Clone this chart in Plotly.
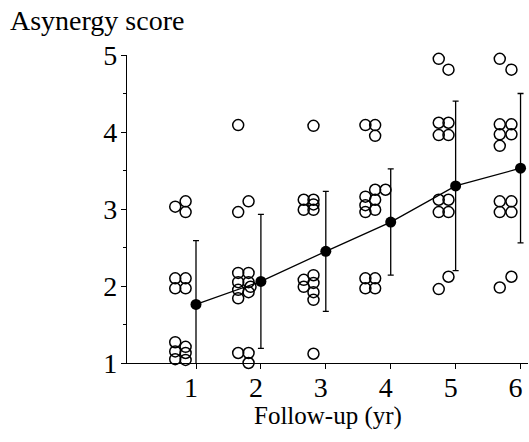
import plotly.graph_objects as go

# ---- data ----
years = [1, 2, 3, 4, 5, 6]
mean_score = [1.76, 2.06, 2.45, 2.83, 3.30, 3.53]
sd_score = [0.83, 0.87, 0.78, 0.69, 1.10, 0.97]

# individual patients (x position includes the horizontal jitter of the original)
y1_x = [0.68, 0.84, 0.84, 0.68, 0.84, 0.68, 0.84, 0.68, 0.68, 0.68, 0.68, 0.84, 0.84, 0.84]
y1_s = [3.03, 3.10, 2.96, 2.10, 2.10, 1.97, 1.97, 1.27, 1.15, 1.05, 0.98, 1.21, 1.13, 1.04]

y2_x = [1.65, 1.81, 1.65, 1.65, 1.81, 1.65, 1.81, 1.65, 1.81, 1.65, 1.84, 1.65, 1.81, 1.81]
y2_s = [4.09, 3.10, 2.96, 2.17, 2.17, 2.05, 2.05, 1.95, 1.92, 1.84, 1.99, 1.13, 1.13, 1.00]

y3_x = [2.81, 2.66, 2.81, 2.66, 2.81, 2.81, 2.66, 2.81, 2.81, 2.81, 2.66, 2.81, 2.81]
y3_s = [4.08, 3.12, 3.12, 2.99, 2.99, 3.06, 2.08, 2.14, 2.04, 1.92, 1.99, 1.82, 1.12]

y4_x = [3.61, 3.76, 3.76, 3.61, 3.76, 3.92, 3.76, 3.61, 3.76, 3.61, 3.61, 3.76, 3.61, 3.76]
y4_s = [4.09, 4.09, 3.95, 3.16, 3.25, 3.25, 3.12, 3.05, 2.99, 2.96, 2.10, 2.10, 1.97, 1.97]

y5_x = [4.74, 4.89, 4.74, 4.89, 4.74, 4.89, 4.74, 4.89, 4.74, 4.89, 4.74, 4.89]
y5_s = [4.95, 4.81, 4.12, 4.12, 3.96, 3.96, 3.12, 3.12, 2.96, 2.96, 1.96, 2.12]

y6_x = [5.68, 5.86, 5.68, 5.86, 5.68, 5.86, 5.68, 5.68, 5.86, 5.68, 5.86, 5.68, 5.86]
y6_s = [4.95, 4.81, 4.10, 4.10, 3.97, 3.97, 3.82, 3.10, 3.10, 2.96, 2.96, 1.98, 2.12]

x_ticks = [1, 2, 3, 4, 5, 6]
y_ticks = [1, 2, 3, 4, 5]
y_title = "Asynergy score"
x_title = "Follow-up (yr)"

FONT = "Liberation Serif, Times New Roman, serif"

all_x = y1_x + y2_x + y3_x + y4_x + y5_x + y6_x
all_s = y1_s + y2_s + y3_s + y4_s + y5_s + y6_s

fig = go.Figure()
fig.add_trace(go.Scatter(
    x=all_x, y=all_s, mode="markers", cliponaxis=False,
    marker=dict(symbol="circle-open", size=11, color="black",
                line=dict(width=1.5, color="black")),
    showlegend=False,
))
fig.add_trace(go.Scatter(
    x=years, y=mean_score, mode="lines+markers",
    line=dict(color="black", width=1.3),
    marker=dict(symbol="circle", size=11, color="black"),
    error_y=dict(type="data", array=sd_score, color="black", thickness=1.3, width=3),
    showlegend=False,
))

PW, PH = 401, 308   # plot area size
fig.update_layout(
    width=529, height=442,
    margin=dict(l=127, r=1, t=55, b=79),
    paper_bgcolor="white", plot_bgcolor="white",
    font=dict(family=FONT, size=28, color="black"),
    xaxis=dict(range=[-0.063, 6.115], tickvals=x_ticks, ticks="outside", ticklen=5,
               tickwidth=1.3, tickcolor="black", showline=True, linecolor="black",
               linewidth=1.3, showgrid=False, zeroline=False,
               ticklabelstandoff=-6, ticklabelshift=-5,
               tickfont=dict(family=FONT, size=28)),
    yaxis=dict(range=[1, 5], tickvals=y_ticks, ticks="outside", ticklen=5,
               tickwidth=1.3, tickcolor="black", showline=True, linecolor="black",
               linewidth=1.3, showgrid=False, zeroline=False,
               ticklabelstandoff=-2,
               tickfont=dict(family=FONT, size=28),
               minor=dict(tickvals=[1.5, 2.5, 3.5, 4.5], ticks="outside", ticklen=3,
                          tickwidth=1, tickcolor="black")),
    annotations=[
        dict(text=y_title, xref="paper", yref="paper", x=-119 / PW, y=1 + 34 / PH,
             xanchor="left", yanchor="middle", showarrow=False,
             font=dict(family=FONT, size=28)),
        dict(text=x_title, xref="paper", yref="paper", x=0.5, y=-53 / PH,
             xanchor="center", yanchor="middle", showarrow=False,
             font=dict(family=FONT, size=25)),
    ],
)

# remove the default 8px page margin so the figure fills the window exactly
fig.write_html("out.html", config={"displayModeBar": False},
               post_script="document.body.style.margin='0';")
